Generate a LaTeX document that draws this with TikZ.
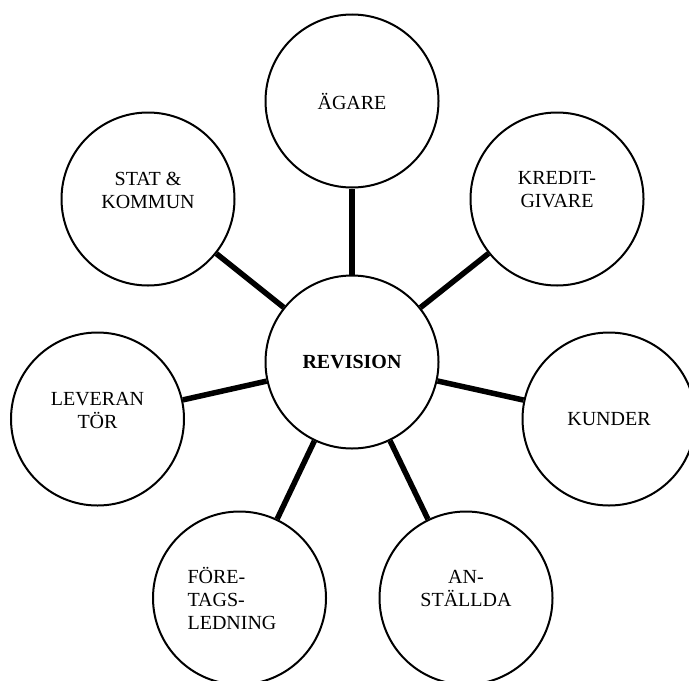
\documentclass[tikz,border=0pt]{standalone}
\usepackage{fontspec}
\setmainfont{Liberation Serif}
\tikzset{
	word/.style={font=\fontsize{10}{11.5}\selectfont, align=center, inner sep=0pt},
	part/.style={circle, draw, line width=1pt, minimum size=86.5pt, inner sep=0pt, word},
	link/.style={line width=2.75pt},
}

\begin{document}
\begin{tikzpicture}[x=0.5pt, y=-0.5pt]
			%%%%% START %%%%%
			
			\clip (0, 0) rectangle (689, 680);
			
			\node[part, font=\fontsize{10}{11.5}\selectfont\bfseries] (rev) at (352, 362) {REVISION};
			
			\node[part] (agare) at (352, 101) {ÄGARE};
			\node[part, label={[word, yshift=4.5pt]center:KREDIT-\\GIVARE}] (kredit) at (557, 199) {};
			\node[part] (kunder) at (609, 419) {KUNDER};
			\node[part, label={[word, yshift=5pt]center:AN-\\STÄLLDA}] (anst) at (466, 598) {};
			\node[part, label={[word, align=left, xshift=-3.75pt]center:FÖRE-\\TAGS-\\LEDNING}] (fore) at (239.5, 598) {};
			\node[part, label={[word, yshift=4.25pt]center:LEVERAN\\TÖR}] (lev) at (97.5, 419) {};
			\node[part, label={[word, yshift=4.5pt]center:STAT \&\\KOMMUN}] (stat) at (148, 199) {};
			
			\draw[link] (rev) -- (agare);
			\draw[link] (rev) -- (kredit);
			\draw[link] (rev) -- (kunder);
			\draw[link] (rev) -- (anst);
			\draw[link] (rev) -- (fore);
			\draw[link] (rev) -- (lev);
			\draw[link] (rev) -- (stat);
			
			%%%%% END %%%%%
		\end{tikzpicture}
\end{document}
